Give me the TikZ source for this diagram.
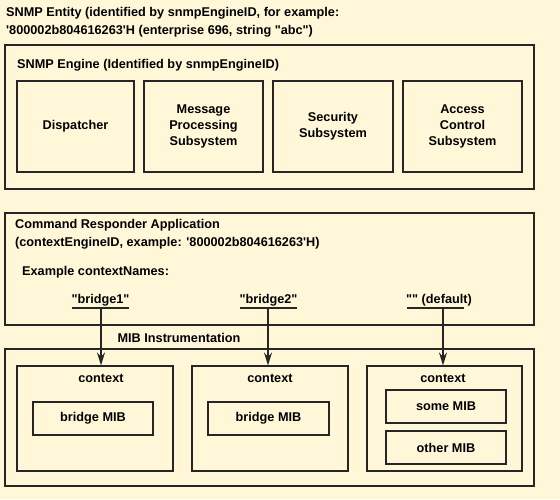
\documentclass[tikz,border=0pt]{standalone}
\usepackage{fontspec}
\setmainfont{Liberation Sans}[Ligatures=TeXOff]
\usetikzlibrary{arrows.meta}
\definecolor{paper}{HTML}{FFF7D7}
\definecolor{ink}{HTML}{262626}
\begin{document}
\begin{tikzpicture}[x=1pt,y=-1pt,
  txt/.style={inner sep=0pt, font=\bfseries\fontsize{12.7}{15.7}\selectfont},
  box/.style={txt, draw=ink, line width=1.2pt, align=center},
  lbl/.style={txt, anchor=base west},
  clbl/.style={txt, anchor=base},
  uline/.style={draw=ink, line width=1.1pt},
  arr/.style={draw=ink, line width=1.1pt, -{Stealth[length=13pt,width=8pt,inset=4.5pt]}}
]
\fill[paper] (0,0) rectangle (560,499);
\useasboundingbox (0,0) rectangle (560,499);

% SNMP entity heading
\node[lbl] (ent1) at (6,16.5) {SNMP Entity (identified by snmpEngineID, for example:};
\node[lbl] (ent2) at (6,34.5) {'800002b804616263'H (enterprise 696, string "abc")};

% SNMP engine and its subsystems
\node[box, minimum width=529pt, minimum height=144pt] (engine) at (269.5,117) {};
\node[lbl] (engt) at (17,68.5) {SNMP Engine (Identified by snmpEngineID)};
\node[box, minimum width=117pt, minimum height=91pt] (disp) at (75.5,126.5) {Dispatcher};
\node[box, minimum width=119pt, minimum height=91pt] (mps) at (203.5,126.5) {Message\\Processing\\Subsystem};
\node[box, minimum width=120pt, minimum height=91pt] (sec) at (333,126.5) {Security\\Subsystem};
\node[box, minimum width=119pt, minimum height=91pt] (acs) at (462.5,126.5) {Access\\Control\\Subsystem};

% command responder application
\node[box, minimum width=529pt, minimum height=112pt] (cra) at (269.5,269) {};
\node[lbl] (crat1) at (15,228.5) {Command Responder Application};
\node[lbl] (crat2) at (15,246.5) {(contextEngineID, example: '800002b804616263'H)};
\node[lbl] (exn) at (22,275) {Example contextNames:};

\node[clbl] (n1) at (100.5,303) {"bridge1"};
\node[clbl] (n2) at (268.5,303) {"bridge2"};
\node[clbl] (n3) at (439,303) {"" (default)};

\coordinate (u1a) at (72,308);  \coordinate (u1b) at (129,308); \coordinate (j1) at (101,308);
\coordinate (u2a) at (240,308); \coordinate (u2b) at (297,308); \coordinate (j2) at (268,308);
\coordinate (u3a) at (407,308); \coordinate (u3b) at (464,308); \coordinate (j3) at (443,308);
\draw[uline] (u1a) -- (u1b);
\draw[uline] (u2a) -- (u2b);
\draw[uline] (u3a) -- (u3b);

% MIB instrumentation
\node[clbl] (mibt) at (179,342.5) {MIB Instrumentation};
\node[box, minimum width=529pt, minimum height=137pt] (mib) at (269.5,417.5) {};

\node[box, minimum width=156pt, minimum height=105pt] (ctx1) at (95,418.5) {};
\node[box, minimum width=156pt, minimum height=105pt] (ctx2) at (270,418.5) {};
\node[box, minimum width=155pt, minimum height=105pt] (ctx3) at (444.5,418.5) {};
\node[clbl] (c1) at (101,382.5) {context};
\node[clbl] (c2) at (270,382.5) {context};
\node[clbl] (c3) at (443,382.5) {context};

\node[box, minimum width=120pt, minimum height=33pt] (bm1) at (93,418.5) {bridge MIB};
\node[box, minimum width=121pt, minimum height=33pt] (bm2) at (268.5,418.5) {bridge MIB};
\node[box, minimum width=120pt, minimum height=33pt] (sm) at (446,406.5) {some MIB};
\node[box, minimum width=120pt, minimum height=33pt] (om) at (446,447.5) {other MIB};

% context name to context mapping
\draw[arr] (j1) -- (j1 |- ctx1.north);
\draw[arr] (j2) -- (j2 |- ctx2.north);
\draw[arr] (j3) -- (j3 |- ctx3.north);
\end{tikzpicture}
\end{document}
